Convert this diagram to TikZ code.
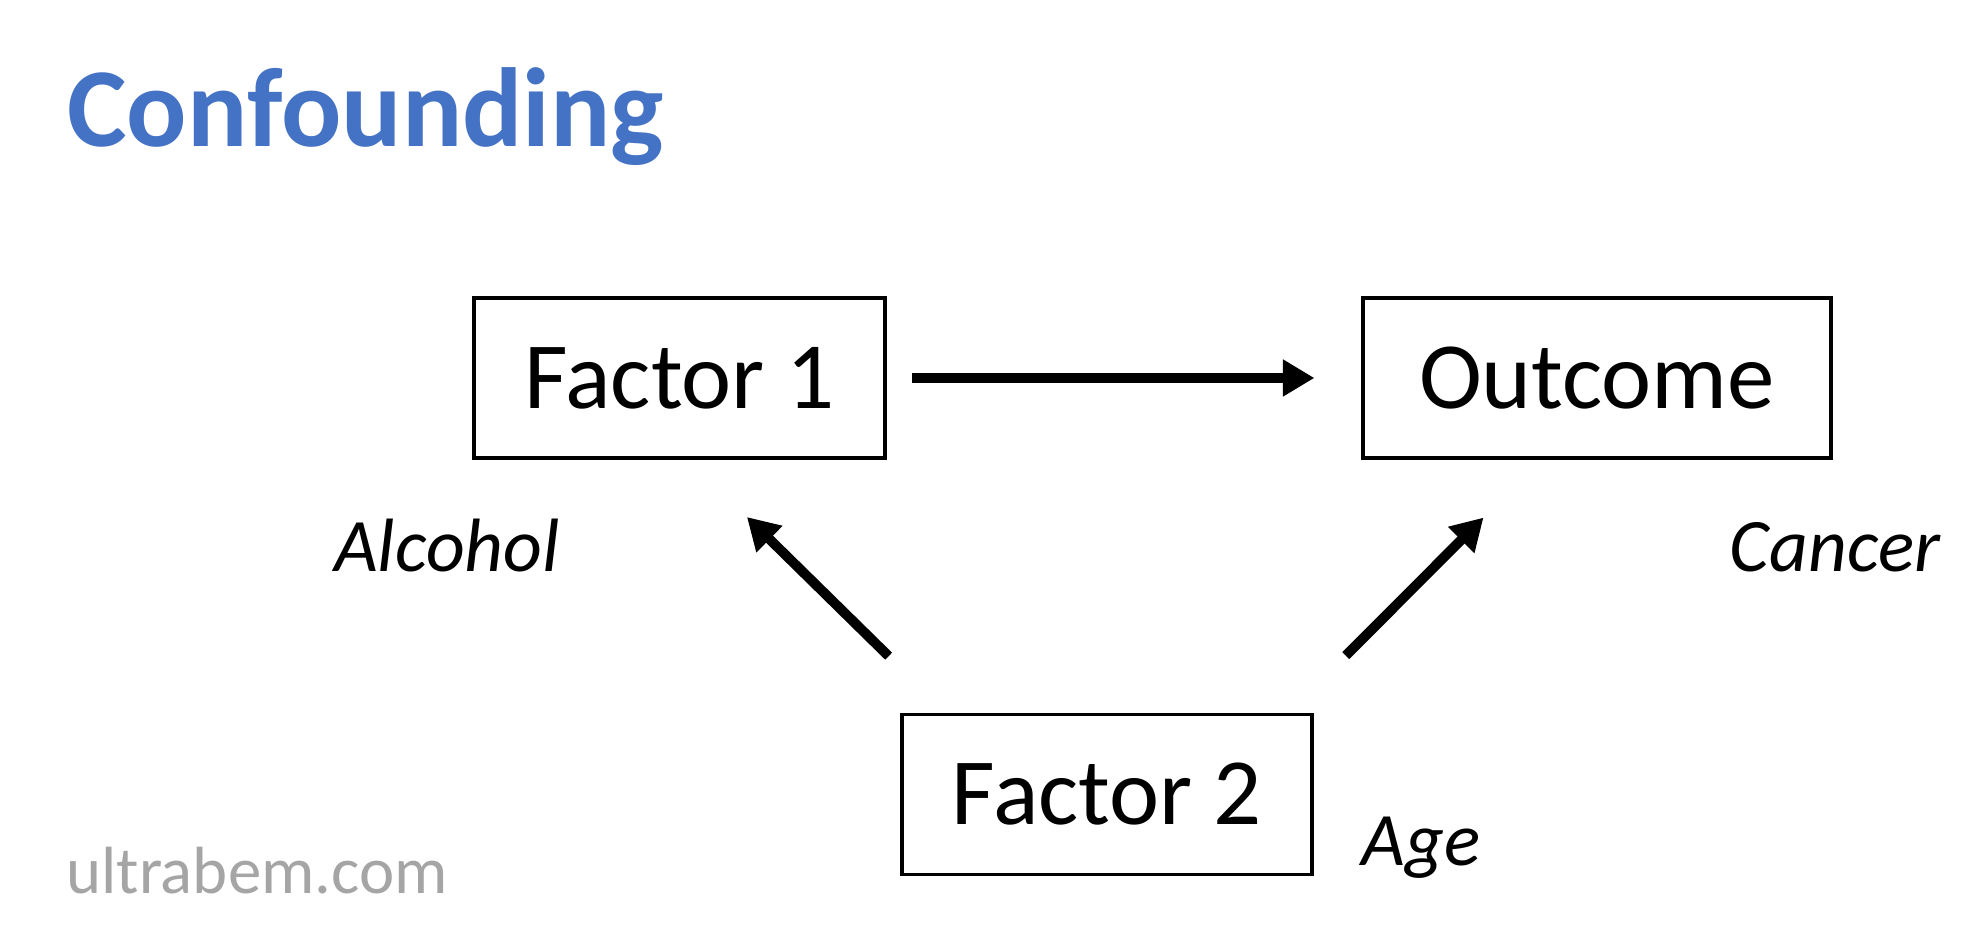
\documentclass[tikz,border=0pt]{standalone}
\usepackage{fontspec}
\setmainfont{Carlito}
\usepackage{xcolor}
\usetikzlibrary{arrows.meta,positioning,calc}
\definecolor{titleblue}{HTML}{4472C4}
\definecolor{markgray}{HTML}{A5A5A5}

\begin{document}
\begin{tikzpicture}[>={Triangle[length=9pt,width=10pt]},
  fbox/.style={draw,line width=0.9pt,minimum height=1.6cm,inner sep=0pt,font=\fontsize{27}{32}\selectfont},
  lab/.style={font=\fontsize{21.5}{26}\selectfont\itshape,anchor=base},
  causal/.style={->,line width=2.8pt}]
  \useasboundingbox (0,0) rectangle (19.88,-9.51);
  \node[anchor=base west,font=\fontsize{32}{38}\selectfont\bfseries,titleblue] (ttl) at (0.55,-1.47) {Confounding};
  \node[fbox,minimum width=4.11cm] (f1) at (6.795,-3.78) {Factor 1};
  \node[fbox,minimum width=4.68cm] (out) at (15.97,-3.78) {Outcome};
  \node[fbox,minimum width=4.10cm] (f2) at (11.07,-7.945) {Factor 2};
  \node[lab] (alc) at (4.47,-5.72) {Alcohol};
  \node[lab] (can) at (18.35,-5.72) {Cancer};
  \node[lab] (age) at (14.21,-8.66) {Age};
  \node[anchor=base,font=\fontsize{19}{23}\selectfont,markgray] (web) at (2.57,-8.94) {ultrabem.com};
  \draw[causal,shorten <=0.25cm,shorten >=0.47cm] (f1.east) -- (out.west);
  \draw[causal,shorten <=0.81cm,shorten >=0.82cm] ([xshift=0.46cm]f2.north west) -- ([xshift=2.16cm]f1.south west);
  \draw[causal,shorten <=0.81cm,shorten >=0.82cm] ([xshift=-0.25cm]f2.north east) -- ([xshift=1.80cm]out.south west);
\end{tikzpicture}
\end{document}
